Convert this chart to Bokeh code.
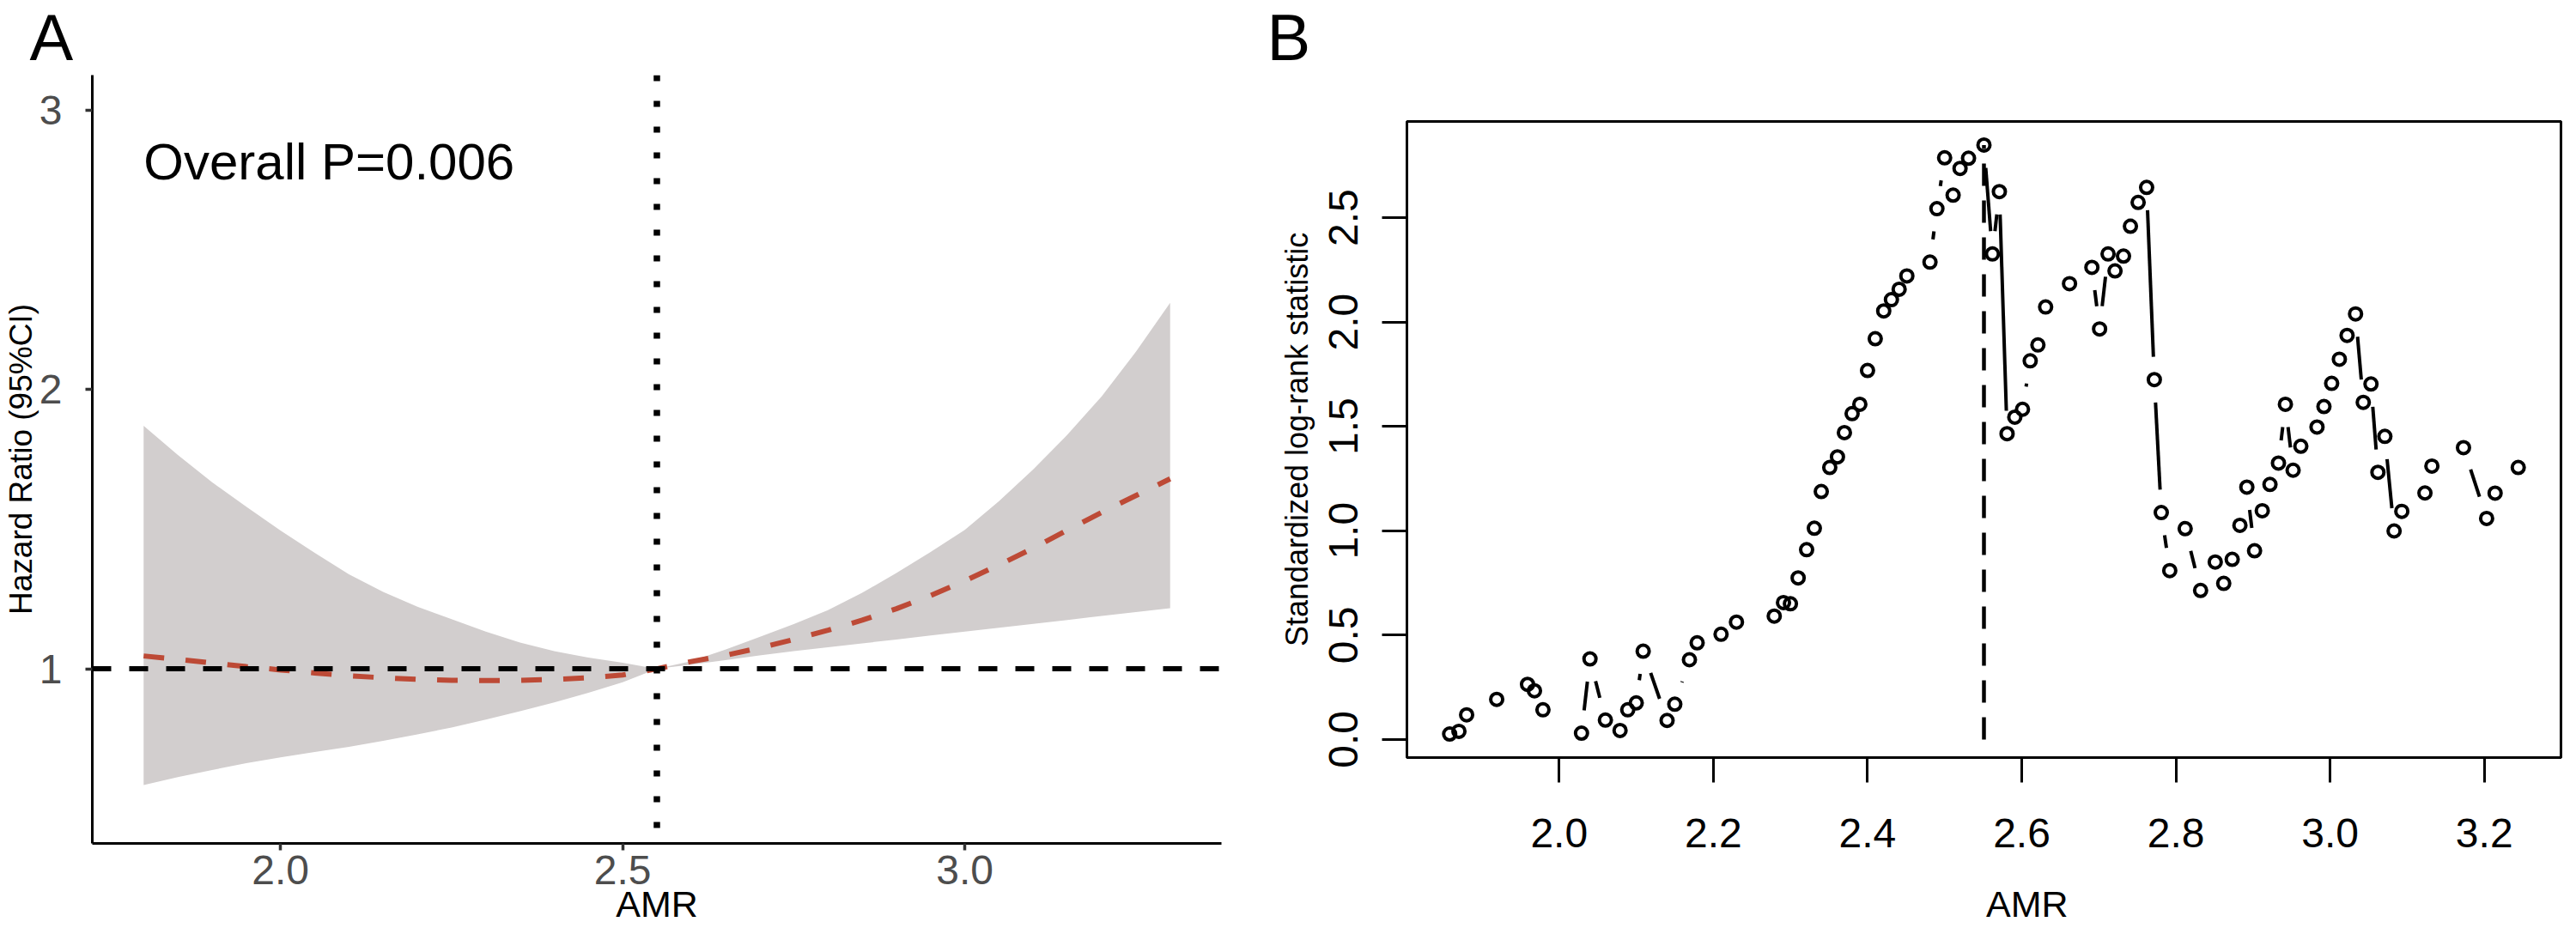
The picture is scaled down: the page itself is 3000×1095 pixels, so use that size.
import numpy as np
from bokeh.embed import file_html
from bokeh.resources import INLINE
from bokeh.plotting import figure
from bokeh.models import (Span, Label, Title, FixedTicker, PrintfTickFormatter,
                          LinearAxis)

FONT = "Liberation Sans"

# Panel A: hazard ratio (95% CI) against AMR
hr_amr = [1.8, 1.85, 1.9, 1.95, 2.0, 2.05, 2.1, 2.15, 2.2, 2.25, 2.3, 2.35, 2.4, 2.45, 2.5,
          2.55, 2.6, 2.65, 2.7, 2.75, 2.8, 2.85, 2.9, 2.95, 3.0, 3.05, 3.1, 3.15, 3.2, 3.25, 3.3]
hr_fit = [1.046, 1.034, 1.021, 1.008, 0.996, 0.985, 0.975, 0.968, 0.962, 0.959, 0.958,
          0.959, 0.962, 0.968, 0.978, 1.0, 1.026, 1.048, 1.075, 1.105, 1.138, 1.174,
          1.215, 1.262, 1.315, 1.372, 1.432, 1.497, 1.56, 1.62, 1.68]
hr_lower = [0.584, 0.612, 0.638, 0.662, 0.683, 0.702, 0.721, 0.742, 0.765, 0.790, 0.818,
            0.848, 0.880, 0.914, 0.952, 1.0, 1.015, 1.031, 1.048, 1.063, 1.077, 1.091,
            1.105, 1.119, 1.133, 1.147, 1.161, 1.175, 1.189, 1.203, 1.217]
hr_upper = [1.870, 1.765, 1.668, 1.580, 1.495, 1.415, 1.338, 1.275, 1.222, 1.178, 1.133,
            1.094, 1.063, 1.040, 1.022, 1.0, 1.027, 1.069, 1.114, 1.160, 1.210, 1.272,
            1.343, 1.418, 1.497, 1.600, 1.714, 1.838, 1.975, 2.135, 2.310]
ref_amr = 2.55
p_text = "Overall P=0.006"
a_xticks = [2.0, 2.5, 3.0]
a_yticks = [1, 2, 3]

# Panel B: standardized log-rank statistic for each cut point
cut_amr = [1.858, 1.870, 1.880, 1.919, 1.959, 1.968, 1.979, 2.029, 2.040, 2.060,
           2.079, 2.089, 2.100, 2.109, 2.140, 2.150, 2.169, 2.179, 2.210, 2.230,
           2.279, 2.291, 2.300, 2.310, 2.321, 2.331, 2.340, 2.351, 2.361, 2.370,
           2.380, 2.390, 2.400, 2.410, 2.421, 2.431, 2.441, 2.451, 2.481, 2.490,
           2.500, 2.511, 2.520, 2.531, 2.551, 2.562, 2.571, 2.581, 2.591, 2.601,
           2.611, 2.621, 2.631, 2.662, 2.691, 2.701, 2.712, 2.721, 2.732, 2.741,
           2.751, 2.762, 2.772, 2.781, 2.792, 2.812, 2.832, 2.851, 2.862, 2.873,
           2.883, 2.892, 2.902, 2.912, 2.922, 2.933, 2.942, 2.952, 2.962, 2.983,
           2.992, 3.002, 3.012, 3.022, 3.033, 3.043, 3.053, 3.062, 3.071, 3.083,
           3.093, 3.123, 3.132, 3.173, 3.203, 3.214, 3.244]
logrank_stat = [0.026, 0.039, 0.118, 0.192, 0.264, 0.233, 0.142, 0.030, 0.386, 0.093,
                0.043, 0.142, 0.175, 0.423, 0.091, 0.169, 0.382, 0.463, 0.504, 0.562,
                0.591, 0.656, 0.650, 0.774, 0.909, 1.012, 1.188, 1.303, 1.354, 1.470,
                1.561, 1.606, 1.768, 1.920, 2.053, 2.107, 2.157, 2.221, 2.287, 2.543,
                2.787, 2.608, 2.736, 2.785, 2.848, 2.326, 2.625, 1.465, 1.544, 1.582,
                1.814, 1.890, 2.072, 2.184, 2.262, 1.967, 2.326, 2.245, 2.316, 2.459,
                2.573, 2.645, 1.724, 1.087, 0.809, 1.010, 0.714, 0.850, 0.748, 0.863,
                1.026, 1.209, 0.904, 1.096, 1.222, 1.324, 1.606, 1.290, 1.405, 1.497,
                1.595, 1.706, 1.822, 1.936, 2.039, 1.615, 1.703, 1.280, 1.452, 0.999,
                1.093, 1.181, 1.310, 1.398, 1.059, 1.180, 1.303]
b_xticks = [2.0, 2.2, 2.4, 2.6, 2.8, 3.0, 3.2]
b_yticks = [0.0, 0.5, 1.0, 1.5, 2.0, 2.5]
b_xlabel_at = 2.607           # x title of panel B sits right of centre

H = 1079


def panel_title(letter, offset):
    return Title(text=letter, align="left", offset=offset, standoff=0,
                 vertical_align="top", text_font=FONT, text_font_size="76px",
                 text_font_style="normal", text_color="black")


def top_spacer(px, at):
    # axis above the frame with one hidden tick, only to push the panel letter up
    return LinearAxis(ticker=FixedTicker(ticks=[at]), major_label_overrides={at: ""},
                      axis_line_color=None, major_tick_line_color=None,
                      major_tick_out=px, major_tick_in=0,
                      minor_tick_out=0, minor_tick_line_color=None,
                      major_label_standoff=0, major_label_text_font_size="1px")


# ---------------- panel A ----------------
a_w = 1470
p1 = figure(width=a_w, height=H, x_range=(1.725, 3.375), y_range=(0.375, 3.125),
            output_backend="svg", toolbar_location=None, title=None,
            min_border_left=96, min_border_right=48,
            min_border_top=81, min_border_bottom=97)
p1.outline_line_color = None
p1.grid.visible = False

p1.varea(x=hr_amr, y1=hr_lower, y2=hr_upper, fill_color="#D2CECE")
p1.add_layout(Span(location=1, dimension="width", line_color="black",
                   line_width=6, line_dash="22 21"))
p1.add_layout(Span(location=ref_amr, dimension="height", line_color="black",
                   line_width=7.5, line_dash="7 23"))
p1.line(hr_amr, hr_fit, line_color="#BD4A36", line_width=6, line_dash="24 25")

a_xax = p1.below[0]
a_yax = p1.left[0]
a_xax.ticker = FixedTicker(ticks=a_xticks)
a_xax.formatter = PrintfTickFormatter(format="%.1f")
a_yax.ticker = FixedTicker(ticks=a_yticks)
a_yax.formatter = PrintfTickFormatter(format="%d")
for ax in (a_xax, a_yax):
    ax.axis_line_color = "black"
    ax.axis_line_width = 3
    ax.major_tick_line_color = "#333333"
    ax.major_tick_line_width = 3.5
    ax.major_tick_out = 8
    ax.major_tick_in = 0
    ax.minor_tick_line_color = None
    ax.major_label_text_font = FONT
    ax.major_label_text_font_size = "48px"
    ax.major_label_text_color = "#4D4D4D"
    ax.axis_label_text_font = FONT
    ax.axis_label_text_font_style = "normal"
    ax.axis_label_text_color = "black"
a_xax.major_label_standoff = 6
a_yax.major_label_standoff = 27
a_xax.axis_label = "AMR"
a_xax.axis_label_text_font_size = "43px"
a_xax.axis_label_standoff = -4
a_yax.axis_label = "Hazard Ratio (95%CI)"
a_yax.axis_label_text_font_size = "37px"
a_yax.axis_label_standoff = -2

p1.add_layout(Label(x=1.8, y=2.816, text=p_text, text_font=FONT, text_color="black",
                    text_font_size="60px", text_baseline="alphabetic"))
p1.add_layout(panel_title("A", -73), "above")

# ---------------- panel B ----------------
bx = np.array(cut_amr)
by = np.array(logrank_stat)
xpad = 0.04 * (bx.max() - bx.min())
ypad = 0.04 * (by.max() - by.min())
box_l, box_r = bx.min() - xpad, bx.max() + xpad
box_b, box_t = by.min() - ypad, by.max() + ypad

b_w = 2984 - a_w
b_left, b_right, b_top, b_bottom = 168, 2, 132, 197
ppx = (b_w - b_left - b_right) / (box_r - box_l)
ppy = (H - b_top - b_bottom) / (box_t - box_b)

p2 = figure(width=b_w, height=H, x_range=(box_l, box_r), y_range=(box_b, box_t),
            output_backend="svg", toolbar_location=None, title=None,
            min_border_left=b_left, min_border_right=b_right,
            min_border_top=b_top, min_border_bottom=b_bottom)
p2.grid.visible = False
p2.outline_line_color = "black"
p2.outline_line_width = 3

# lines between points with a gap around each point (like R type="b")
gap = 27
dxp = np.diff(bx) * ppx
dyp = np.diff(by) * ppy
dist = np.hypot(dxp, dyp)
keep = dist > 2 * gap
f = gap / dist[keep]
x0 = bx[:-1][keep] + np.diff(bx)[keep] * f
y0 = by[:-1][keep] + np.diff(by)[keep] * f
x1 = bx[1:][keep] - np.diff(bx)[keep] * f
y1 = by[1:][keep] - np.diff(by)[keep] * f
p2.segment(x0=x0, y0=y0, x1=x1, y1=y1, line_color="black", line_width=4)

best = int(np.argmax(by))
p2.segment(x0=[bx[best]], y0=[0], x1=[bx[best]], y1=[by[best]],
           line_color="black", line_width=4.5, line_dash="26 17")

p2.scatter(cut_amr, logrank_stat, marker="circle", size=14, fill_color=None,
           line_color="black", line_width=4)

b_xax = p2.below[0]
b_yax = p2.left[0]
b_xax.ticker = FixedTicker(ticks=b_xticks)
b_yax.ticker = FixedTicker(ticks=b_yticks)
for ax in (b_xax, b_yax):
    ax.formatter = PrintfTickFormatter(format="%.1f")
    ax.axis_line_color = None
    ax.major_tick_line_color = "black"
    ax.major_tick_line_width = 3
    ax.major_tick_out = 29
    ax.major_tick_in = 0
    ax.minor_tick_line_color = None
    ax.major_label_text_font = FONT
    ax.major_label_text_font_size = "48px"
    ax.major_label_text_color = "black"
b_xax.major_label_standoff = 42
b_yax.major_label_standoff = 28
b_yax.major_label_orientation = "vertical"
b_yax.axis_label = "Standardized log-rank statistic"
b_yax.axis_label_text_font = FONT
b_yax.axis_label_text_font_size = "36px"
b_yax.axis_label_text_font_style = "normal"
b_yax.axis_label_text_color = "black"
b_yax.axis_label_standoff = 15

# x title of panel B, placed under the axis at its own position
b_title_axis = LinearAxis(ticker=FixedTicker(ticks=[b_xlabel_at]),
                          major_label_overrides={b_xlabel_at: "AMR"},
                          axis_line_color=None, major_tick_line_color=None,
                          major_tick_out=0, major_tick_in=0,
                          minor_tick_line_color=None,
                          major_label_standoff=39,
                          major_label_text_font=FONT,
                          major_label_text_font_size="43px",
                          major_label_text_color="black")
p2.add_layout(b_title_axis, "below")
p2.add_layout(top_spacer(54, b_xticks[3]), "above")
p2.add_layout(panel_title("B", -163), "above")

# the two panels are separate roots placed side by side, so their frames
# are not forced to line up
page = """
{% block contents %}
<div style="display: flex; flex-direction: row; align-items: flex-start;">
{{ super() }}
</div>
{% endblock %}
"""
open("out.html", "w").write(file_html([p1, p2], INLINE, template=page))
